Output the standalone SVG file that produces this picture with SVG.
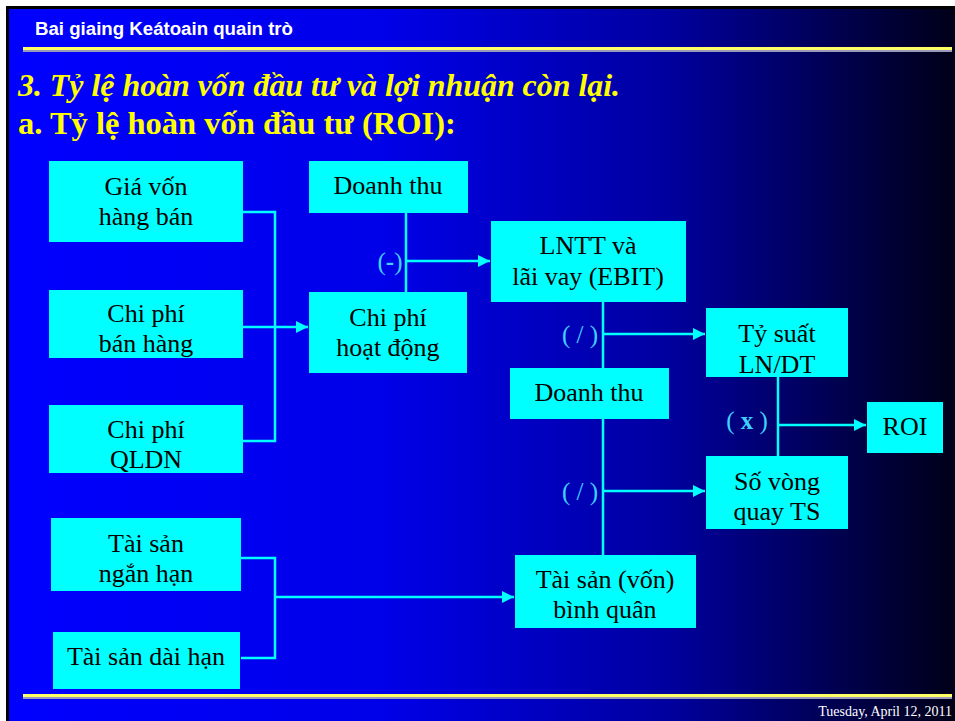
<svg xmlns="http://www.w3.org/2000/svg" width="955" height="721" viewBox="0 0 955 721">
<defs>
<linearGradient id="bg" x1="0" y1="0" x2="1" y2="0">
<stop offset="0" stop-color="#0000ff"/>
<stop offset="0.4" stop-color="#0000e8"/>
<stop offset="0.7" stop-color="#00009e"/>
<stop offset="1" stop-color="#000018"/>
</linearGradient>
<marker id="ah" viewBox="0 0 10 10" refX="10" refY="5" markerWidth="5" markerHeight="5" orient="auto" markerUnits="strokeWidth">
<path d="M0,0 L10,5 L0,10 z" fill="#00ffff"/>
</marker>
<style>
.box{fill:#00ffff}
.t{font-family:"Liberation Serif","Times New Roman",serif;font-size:26px;fill:#000;text-anchor:middle}
.c{fill:none;stroke:#00ffff;stroke-width:2.5}
.lbl{font-family:"Liberation Serif","Times New Roman",serif;font-size:25px;fill:#40d0ff;text-anchor:middle}
.ttl{font-family:"Liberation Serif","Times New Roman",serif;font-size:32.5px;font-weight:bold;fill:#ffff00}
</style>
</defs>
<rect x="0" y="0" width="955" height="721" fill="#ffffff"/>
<rect x="6" y="6" width="949" height="715" fill="#000000"/>
<rect x="9" y="9" width="946" height="712" fill="url(#bg)"/>
<text x="35" y="35" font-family="Liberation Sans,Arial,sans-serif" font-size="18" font-weight="bold" fill="#ffffff" textLength="258" lengthAdjust="spacingAndGlyphs">Bai giaing Keátoain quain trò</text>
<rect x="23" y="47" width="929" height="3" fill="#ffff66"/>
<rect x="23" y="50" width="929" height="2" fill="#9999bb"/>
<rect x="23" y="694" width="929" height="3" fill="#ffff66"/>
<rect x="23" y="697" width="929" height="2" fill="#9999bb"/>
<text x="952" y="716" font-family="Liberation Serif,Times New Roman,serif" font-size="14" fill="#ffffff" text-anchor="end">Tuesday, April 12, 2011</text>
<text class="ttl" x="18" y="96" font-style="italic" textLength="602" lengthAdjust="spacingAndGlyphs">3. Tỷ lệ hoàn vốn đầu tư và lợi nhuận còn lại.</text>
<text class="ttl" x="18" y="134">a. Tỷ lệ hoàn vốn đầu tư (ROI):</text>

<g id="connectors">
<polyline class="c" points="243,212 275,212 275,441 243,441"/>
<line class="c" x1="243" y1="327" x2="308" y2="327" marker-end="url(#ah)"/>
<line class="c" x1="406" y1="213" x2="406" y2="292"/>
<line class="c" x1="406" y1="261" x2="490" y2="261" marker-end="url(#ah)"/>
<line class="c" x1="603" y1="302" x2="603" y2="368"/>
<line class="c" x1="603" y1="334" x2="705" y2="334" marker-end="url(#ah)"/>
<line class="c" x1="603" y1="419" x2="603" y2="555"/>
<line class="c" x1="603" y1="491" x2="705" y2="491" marker-end="url(#ah)"/>
<line class="c" x1="778" y1="377" x2="778" y2="456"/>
<line class="c" x1="778" y1="425" x2="866" y2="425" marker-end="url(#ah)"/>
<polyline class="c" points="241,558 275,558 275,658 241,658"/>
<line class="c" x1="275" y1="597" x2="514" y2="597" marker-end="url(#ah)"/>
<text class="lbl" x="390" y="270">(<tspan font-weight="bold">-</tspan>)</text>
<text class="lbl" x="580" y="343">( / )</text>
<text class="lbl" x="580" y="500">( / )</text>
<text class="lbl" x="747" y="429">( <tspan font-weight="bold">x</tspan> )</text>
</g>

<g id="gia-von"><rect class="box" x="49" y="161" width="194" height="81"/><text class="t" x="146" y="195">Giá vốn</text><text class="t" x="146" y="225">hàng bán</text></g>
<g id="cp-ban-hang"><rect class="box" x="49" y="290" width="194" height="68"/><text class="t" x="146" y="322">Chi phí</text><text class="t" x="146" y="352">bán hàng</text></g>
<g id="cp-qldn"><rect class="box" x="49" y="405" width="194" height="68"/><text class="t" x="146" y="438">Chi phí</text><text class="t" x="146" y="468">QLDN</text></g>
<g id="doanh-thu-1"><rect class="box" x="309" y="161" width="159" height="52"/><text class="t" x="388" y="194">Doanh thu</text></g>
<g id="cp-hoat-dong"><rect class="box" x="309" y="292" width="158" height="81"/><text class="t" x="388" y="326">Chi phí</text><text class="t" x="388" y="356">hoạt động</text></g>
<g id="ebit"><rect class="box" x="491" y="221" width="195" height="81"/><text class="t" x="588" y="254">LNTT và</text><text class="t" x="588" y="285">lãi vay (EBIT)</text></g>
<g id="doanh-thu-2"><rect class="box" x="510" y="368" width="159" height="51"/><text class="t" x="589" y="401">Doanh thu</text></g>
<g id="ty-suat"><rect class="box" x="706" y="308" width="142" height="69"/><text class="t" x="777" y="342">Tỷ suất</text><text class="t" x="777" y="373">LN/DT</text></g>
<g id="roi"><rect class="box" x="867" y="402" width="76" height="51"/><text class="t" x="905" y="435">ROI</text></g>
<g id="so-vong"><rect class="box" x="706" y="456" width="142" height="73"/><text class="t" x="777" y="490">Số vòng</text><text class="t" x="777" y="520">quay TS</text></g>
<g id="ts-ngan-han"><rect class="box" x="51" y="518" width="190" height="73"/><text class="t" x="146" y="552">Tài sản</text><text class="t" x="146" y="582">ngắn hạn</text></g>
<g id="ts-dai-han"><rect class="box" x="53" y="632" width="187" height="57"/><text class="t" x="146" y="665">Tài sản dài hạn</text></g>
<g id="ts-binh-quan"><rect class="box" x="515" y="555" width="181" height="73"/><text class="t" x="605" y="588">Tài sản (vốn)</text><text class="t" x="605" y="618">bình quân</text></g>
</svg>
